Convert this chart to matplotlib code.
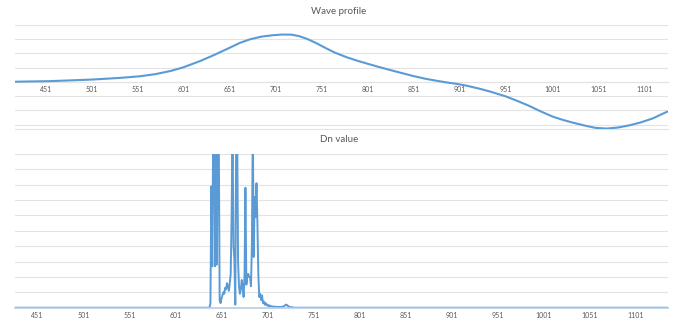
import matplotlib
matplotlib.use("Agg")
import matplotlib.pyplot as plt
import numpy as np

# ---- data ----
wave_x = [418, 456, 501, 530, 553, 570, 587, 600, 619, 634, 649, 662, 673, 685, 697,
          708, 718, 726, 735, 745, 755, 765, 778, 790, 801, 813, 825, 838, 850, 863,
          876, 887, 897, 908, 922, 935, 950, 962, 975, 988, 1001, 1012, 1022, 1037, 1048,
          1060, 1072, 1085, 1097, 1110, 1126]
wave_y = [0.02, 0.06, 0.17, 0.28, 0.40, 0.55, 0.78, 1.02, 1.48, 1.90, 2.35, 2.75, 3.00, 3.18, 3.28,
          3.33, 3.32, 3.22, 3.02, 2.72, 2.38, 2.06, 1.73, 1.48, 1.27, 1.05, 0.84, 0.62, 0.42, 0.23,
          0.08, -0.04, -0.13, -0.26, -0.47, -0.70, -1.00, -1.30, -1.65, -2.05, -2.42, -2.65, -2.83, -3.07, -3.22,
          -3.27, -3.20, -3.04, -2.84, -2.56, -2.08]

dn_first, dn_last = 427, 1136          # category range of the Dn series
dn_peak_start = 638                    # first category of the non-zero part
dn_peak = [0.0, 0.3, 7.9, 2.7, 12, 12, 2.7, 12, 2.8, 12, 12, 0.5,      # 638-649
           0.3, 0.6, 0.8, 1.0, 0.9, 1.3, 1.2, 1.6, 1.4, 1.1, 1.6, 2.2,    # 650-661
           6.0, 12, 4.0, 3.1, 0.2, 12, 12, 3.0, 1.4, 0.9, 1.2, 1.8,       # 662-673
           1.4, 0.7, 2.0, 7.8, 1.5, 2.0, 2.2, 2.0, 2.0, 1.4, 4.0, 12,     # 674-685
           3.3, 7.2, 5.9, 8.1, 5.5, 2.2, 0.7, 0.9, 0.5, 0.8, 0.3, 0.4,    # 686-697
           0.2, 0.3, 0.15, 0.2, 0.1, 0.15, 0.1, 0.1, 0.08, 0.05, 0.08, 0.05,  # 698-709
           0.05, 0.06, 0.05, 0.04, 0.05, 0.04, 0.06, 0.05, 0.08, 0.1, 0.15, 0.2,  # 710-721
           0.18, 0.12, 0.08, 0.05, 0.04, 0.03, 0.02, 0.02, 0.0]           # 722-730

tick_vals = list(range(451, 1102, 50))
tick_labels = [str(v) for v in tick_vals]

# ---- build Dn series ----
dn_x = np.arange(dn_first, dn_last + 1)
dn_y = np.zeros(len(dn_x))
dn_y[dn_peak_start - dn_first: dn_peak_start - dn_first + len(dn_peak)] = dn_peak

W, H = 680, 323
fig = plt.figure(figsize=(W / 100, H / 100), dpi=100)
fig.patch.set_facecolor("white")

LINE = "#5B9BD5"
GRID = "#E3E3E3"
TXT = "#595959"
FONT = ["Lato", "DejaVu Sans"]

def px_axes(x0, y0, x1, y1):
    return fig.add_axes([x0 / W, 1 - y1 / H, (x1 - x0) / W, (y1 - y0) / H])

# ---- top chart ----
ax1 = px_axes(15, 25, 668, 129)
ax1.set_xlim(417.6, 1126.7)
ax1.set_ylim(-3.3, 4)
for v in range(-3, 5):
    ax1.axhline(v, color=GRID, lw=0.8, zorder=0)
ax1.axhline(-3.3, color=GRID, lw=0.8, zorder=0, clip_on=False)
ax1.plot(wave_x, wave_y, color=LINE, lw=1.5, solid_capstyle="round",
         solid_joinstyle="round", zorder=3)
for s in ["top", "left", "right"]:
    ax1.spines[s].set_visible(False)
ax1.spines["bottom"].set_position(("data", 0))
ax1.spines["bottom"].set_color(GRID)
ax1.spines["bottom"].set_linewidth(0.8)
ax1.set_yticks([])
ax1.set_xticks(tick_vals)
ax1.set_xticklabels(tick_labels, fontsize=5, color=TXT, family=FONT)
ax1.tick_params(axis="x", length=0, pad=3)
fig.text(339 / W, 1 - 12 / H, "Wave profile", ha="center", va="center",
         fontsize=7, color=TXT, family=FONT)

# ---- bottom chart ----
ax2 = px_axes(15, 154, 668, 307.7)
ax2.set_xlim(426.8, 1135.8)
ax2.set_ylim(0, 10)
for v in range(1, 11):
    ax2.axhline(v, color=GRID, lw=0.8, zorder=0)
ax2.plot(dn_x, dn_y, color=LINE, lw=1.4, zorder=2)
for s in ["top", "left", "right"]:
    ax2.spines[s].set_visible(False)
ax2.spines["bottom"].set_color("#B8CCE2")
ax2.spines["bottom"].set_linewidth(1.2)
ax2.spines["bottom"].set_zorder(2.5)
ax2.set_yticks([])
ax2.set_xticks(tick_vals)
ax2.set_xticklabels(tick_labels, fontsize=5, color=TXT, family=FONT)
ax2.tick_params(axis="x", length=0, pad=3)
fig.text(339 / W, 1 - 140 / H, "Dn value", ha="center", va="center",
         fontsize=7, color=TXT, family=FONT)

fig.savefig("out.png", dpi=100, facecolor="white")
